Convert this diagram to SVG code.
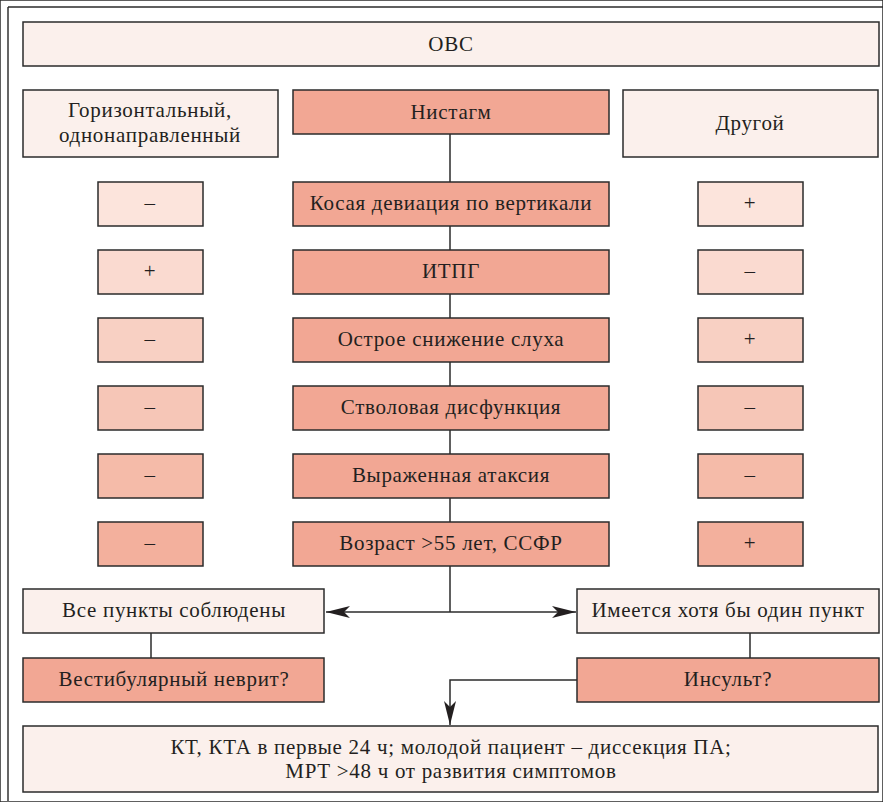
<svg xmlns="http://www.w3.org/2000/svg" width="883" height="802" viewBox="0 0 883 802">
<defs>
<style>
rect{stroke:#2b2b2b;stroke-width:1.5}
.lt{fill:#fbf0ec}
.c{fill:#f2a794}
.r1{fill:#fce4dc}.r2{fill:#fadad0}.r3{fill:#f8d0c3}.r4{fill:#f6c6b7}.r5{fill:#f5bba9}.r6{fill:#f3b09d}
text{font-family:"Liberation Serif","DejaVu Serif",serif;font-size:21px;letter-spacing:0.7px;fill:#231f20;text-anchor:middle}
.cn{fill:none;stroke:#2b2b2b;stroke-width:1.5}
</style>
<marker id="ah" viewBox="0 0 24 12" refX="24" refY="6" markerWidth="24" markerHeight="12" markerUnits="userSpaceOnUse" orient="auto">
<path d="M0,0 L24,6 L0,12 L6,6 Z" fill="#231f20"/>
</marker>
</defs>
<rect width="883" height="802" fill="#ffffff" stroke="none"/>
<line x1="8" y1="7" x2="8" y2="802" stroke="#666" stroke-width="2"/>
<line x1="8" y1="7" x2="883" y2="7" stroke="#2b2b2b" stroke-width="1.5"/>

<g id="connectors">
<line class="cn" x1="450" y1="134" x2="450" y2="612"/>
<line class="cn" x1="450" y1="612" x2="326" y2="612" marker-end="url(#ah)"/>
<line class="cn" x1="450" y1="612" x2="576" y2="612" marker-end="url(#ah)"/>
<line class="cn" x1="151" y1="633" x2="151" y2="658"/>
<line class="cn" x1="750" y1="633" x2="750" y2="658"/>
<polyline class="cn" points="577,680 450,680 450,725" marker-end="url(#ah)"/>
</g>

<g id="ovc"><rect class="lt" x="23" y="22" width="856" height="44"/><text x="451" y="51">ОВС</text></g>
<g id="horiz"><rect class="lt" x="23" y="90" width="255" height="67"/><text x="150" y="117">Горизонтальный,</text><text x="150" y="142">однонаправленный</text></g>
<g id="nystagmus"><rect class="c" x="293" y="90" width="316" height="44"/><text x="451" y="119">Нистагм</text></g>
<g id="other"><rect class="lt" x="623" y="90" width="255" height="67"/><text x="750" y="130">Другой</text></g>

<g id="row1">
<rect class="r1" x="98" y="182" width="105" height="44"/><text x="150" y="210">–</text>
<rect class="c" x="293" y="182" width="316" height="44"/><text x="451" y="210">Косая девиация по вертикали</text>
<rect class="r1" x="698" y="182" width="105" height="44"/><text x="750" y="210">+</text>
</g>
<g id="row2">
<rect class="r2" x="98" y="250" width="105" height="44"/><text x="150" y="278">+</text>
<rect class="c" x="293" y="250" width="316" height="44"/><text x="451" y="278">ИТПГ</text>
<rect class="r2" x="698" y="250" width="105" height="44"/><text x="750" y="278">–</text>
</g>
<g id="row3">
<rect class="r3" x="98" y="318" width="105" height="44"/><text x="150" y="346">–</text>
<rect class="c" x="293" y="318" width="316" height="44"/><text x="451" y="346">Острое снижение слуха</text>
<rect class="r3" x="698" y="318" width="105" height="44"/><text x="750" y="346">+</text>
</g>
<g id="row4">
<rect class="r4" x="98" y="386" width="105" height="44"/><text x="150" y="414">–</text>
<rect class="c" x="293" y="386" width="316" height="44"/><text x="451" y="414">Стволовая дисфункция</text>
<rect class="r4" x="698" y="386" width="105" height="44"/><text x="750" y="414">–</text>
</g>
<g id="row5">
<rect class="r5" x="98" y="454" width="105" height="44"/><text x="150" y="482">–</text>
<rect class="c" x="293" y="454" width="316" height="44"/><text x="451" y="482">Выраженная атаксия</text>
<rect class="r5" x="698" y="454" width="105" height="44"/><text x="750" y="482">–</text>
</g>
<g id="row6">
<rect class="r6" x="98" y="522" width="105" height="44"/><text x="150" y="550">–</text>
<rect class="c" x="293" y="522" width="316" height="44"/><text x="451" y="550">Возраст &gt;55 лет, ССФР</text>
<rect class="r6" x="698" y="522" width="105" height="44"/><text x="750" y="550">+</text>
</g>

<g id="all"><rect class="lt" x="23" y="589" width="301" height="44"/><text x="174" y="617">Все пункты соблюдены</text></g>
<g id="vn"><rect class="c" x="23" y="658" width="301" height="44"/><text x="174" y="686">Вестибулярный неврит?</text></g>
<g id="any"><rect class="lt" x="577" y="589" width="302" height="44"/><text x="728" y="617">Имеется хотя бы один пункт</text></g>
<g id="stroke"><rect class="c" x="577" y="658" width="302" height="44"/><text x="728" y="686">Инсульт?</text></g>
<g id="ct"><rect class="lt" x="23" y="726" width="855" height="66"/><text x="451" y="754">КТ, КТА в первые 24 ч; молодой пациент – диссекция ПА;</text><text x="451" y="778">МРТ &gt;48 ч от развития симптомов</text></g>
</svg>
